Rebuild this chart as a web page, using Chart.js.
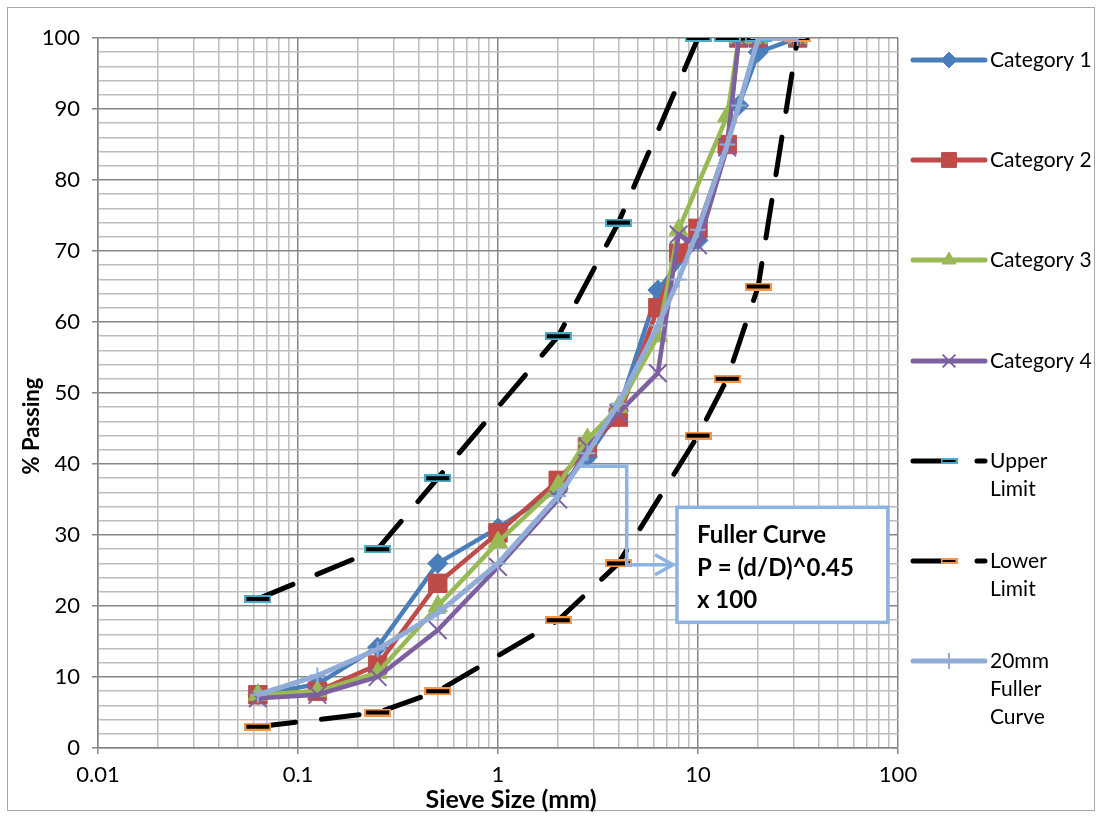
<!DOCTYPE html>
<html>
<head>
<meta charset="utf-8">
<script src="https://cdn.jsdelivr.net/npm/chart.js@4.4.0/dist/chart.umd.min.js"></script>
<style>
  html, body { margin: 0; padding: 0; background: #fff; }
  #wrap { width: 1101px; height: 817px; }
</style>
</head>
<body>
<div id="wrap"><canvas id="gradingChart" width="1101" height="817"></canvas></div>
<script>
// --- data ---
const sieveSizes = [0.063, 0.125, 0.25, 0.5, 1, 2, 2.8, 4, 6.3, 8, 10, 14, 16, 20, 31.5];
const category1 = [7.5, 9, 14.2, 26, 31, 36.5, 41, 47.5, 64.5, null, 71.5, null, 90.5, 98, 100];
const category2 = [7.5, 8, 11.7, 23.2, 30.3, 37.7, 42.4, 46.6, 62, 69.7, 73.2, 85, 100, 100, 100];
const category3 = [7.5, 8, 10.6, 20, 29, 37, 43.5, 48, 58, 73, null, 89, 100, 100, 100];
const category4 = [7, 7.5, 10, 16.6, 25.5, 35, 42.4, 47.2, 52.8, 72.3, 70.8, 84.6, 100, 100, 100];
const fuller20 = [7.5, 10.2, 13.9, 19, 26, 35.5, 41.5, 48.5, 59.5, 66, 73, 85, 90.5, 100, 100];

const upperSizes = [0.063, 0.25, 0.5, 2, 4, 10, 14, 20];
const upperLimit = [21, 28, 38, 58, 74, 100, 100, 100];
const lowerSizes = [0.063, 0.25, 0.5, 2, 4, 10, 14, 20, 31.5];
const lowerLimit = [3, 5, 8, 18, 26, 44, 52, 65, 100];

const xMajorTicks = [0.01, 0.1, 1, 10, 100];
const xTickLabels = ["0.01", "0.1", "1", "10", "100"];

const seriesNames = ["Category 1", "Category 2", "Category 3", "Category 4", "Upper Limit", "Lower Limit", "20mm Fuller Curve"];

// --- helpers ---
function toPoints(xs, ys) {
  return xs.map((x, i) => ({ x: x, y: ys[i] })).filter(p => p.y !== null);
}

function isDecade(v) {
  const l = Math.log10(v);
  return Math.abs(l - Math.round(l)) < 1e-9;
}

// black dash marker with a coloured rim
function dashMarker(w, h, rim) {
  const c = document.createElement("canvas");
  c.width = w;
  c.height = h;
  const g = c.getContext("2d");
  g.fillStyle = rim;
  g.fillRect(0, 0, w, h);
  g.fillStyle = "#000";
  g.fillRect(2, 2, w - 4, h - 4);
  return c;
}

const FONT = "Lato, 'Open Sans', sans-serif";
const MAJOR_GRID = "#858585";
const MINOR_GRID = "#bdbdbd";
const FULLER_BLUE = "#92acd8";
const NOTE_BLUE = "#8db3e2";

const upperMark = dashMarker(27, 8, "#4bacc6");
const lowerMark = dashMarker(27, 8, "#f79646");
const upperMarkSmall = dashMarker(17, 6, "#4bacc6");
const lowerMarkSmall = dashMarker(17, 6, "#f79646");

const datasets = [
  {
    label: seriesNames[0], data: toPoints(sieveSizes, category1), order: 6,
    borderColor: "#4a7ebb", backgroundColor: "#4a7ebb", borderWidth: 4.5,
    pointStyle: "rectRot", pointRadius: 10, pointBorderWidth: 1, legendRadius: 8,
  },
  {
    label: seriesNames[1], data: toPoints(sieveSizes, category2), order: 5,
    borderColor: "#be4b48", backgroundColor: "#be4b48", borderWidth: 4.5,
    pointStyle: "rect", pointRadius: 13, pointBorderWidth: 1, legendRadius: 10.5,
  },
  {
    label: seriesNames[2], data: toPoints(sieveSizes, category3), order: 4,
    borderColor: "#98b954", backgroundColor: "#98b954", borderWidth: 4.5,
    pointStyle: "triangle", pointRadius: 11, pointBorderWidth: 1, legendRadius: 8,
  },
  {
    label: seriesNames[3], data: toPoints(sieveSizes, category4), order: 3,
    borderColor: "#7d60a0", backgroundColor: "#7d60a0", borderWidth: 4.5,
    pointStyle: "crossRot", pointRadius: 12.5, pointBorderWidth: 2, legendRadius: 9,
  },
  {
    label: seriesNames[4], data: toPoints(upperSizes, upperLimit), order: 2,
    borderColor: "#000", backgroundColor: "#000", borderWidth: 5,
    borderDash: [38, 26], borderCapStyle: "round",
    pointStyle: upperMark, pointRadius: 8, legendMark: upperMarkSmall,
  },
  {
    label: seriesNames[5], data: toPoints(lowerSizes, lowerLimit), order: 1,
    borderColor: "#000", backgroundColor: "#000", borderWidth: 5,
    borderDash: [38, 26], borderCapStyle: "round",
    pointStyle: lowerMark, pointRadius: 8, legendMark: lowerMarkSmall,
  },
  {
    label: seriesNames[6], data: toPoints(sieveSizes, fuller20), order: 0,
    borderColor: FULLER_BLUE, backgroundColor: FULLER_BLUE, borderWidth: 5,
    pointStyle: "cross", pointRadius: 8, pointBorderWidth: 2, legendRadius: 8,
  },
];

// --- frame, axis titles, legend, note box ---
const decorPlugin = {
  id: "decor",
  beforeDraw(chart) {
    const ctx = chart.ctx;
    ctx.save();
    ctx.fillStyle = "#fff";
    ctx.fillRect(0, 0, chart.width, chart.height);
    ctx.strokeStyle = "#a6a6a6";
    ctx.lineWidth = 1;
    ctx.strokeRect(7.5, 7.5, chart.width - 14, chart.height - 14);
    ctx.restore();
  },
  afterDraw(chart) {
    const ctx = chart.ctx;
    const area = chart.chartArea;
    const xs = chart.scales.x;
    const ys = chart.scales.y;
    ctx.save();

    // axis titles
    ctx.fillStyle = "#000";
    ctx.textAlign = "center";
    ctx.textBaseline = "middle";
    ctx.font = "bold 25px " + FONT;
    ctx.fillText("Sieve Size (mm)", (area.left + area.right) / 2 + 13, 800);
    ctx.save();
    ctx.translate(32, 426);
    ctx.rotate(-Math.PI / 2);
    ctx.font = "bold 22px " + FONT;
    ctx.fillText("% Passing", 0, 0);
    ctx.restore();

    // legend
    const legendRows = [
      { ds: 0, y: 60, lines: ["Category 1"] },
      { ds: 1, y: 160, lines: ["Category 2"] },
      { ds: 2, y: 260, lines: ["Category 3"] },
      { ds: 3, y: 361, lines: ["Category 4"] },
      { ds: 4, y: 461, lines: ["Upper", "Limit"] },
      { ds: 5, y: 561, lines: ["Lower", "Limit"] },
      { ds: 6, y: 661, lines: ["20mm", "Fuller", "Curve"] },
    ];
    const x0 = area.right + 15, x1 = area.right + 87, xm = area.right + 51;
    legendRows.forEach(row => {
      const ds = datasets[row.ds];
      ctx.save();
      ctx.strokeStyle = ds.borderColor;
      ctx.lineWidth = 5;
      ctx.lineCap = "round";
      if (ds.borderDash) ctx.setLineDash(ds.borderDash);
      ctx.beginPath();
      ctx.moveTo(x0, row.y);
      ctx.lineTo(x1, row.y);
      ctx.stroke();
      ctx.restore();

      ctx.save();
      ctx.fillStyle = ds.backgroundColor;
      ctx.strokeStyle = ds.borderColor;
      ctx.lineWidth = ds.pointBorderWidth || 1;
      if (ds.legendMark) {
        ctx.drawImage(ds.legendMark, xm - ds.legendMark.width / 2, row.y - ds.legendMark.height / 2);
      } else if (ds.pointStyle === "cross") {
        ctx.beginPath();
        ctx.moveTo(xm, row.y - ds.legendRadius);
        ctx.lineTo(xm, row.y + ds.legendRadius);
        ctx.stroke();
      } else {
        Chart.helpers.drawPoint(ctx, {
          pointStyle: ds.pointStyle, radius: ds.legendRadius, rotation: 0, borderWidth: ds.pointBorderWidth || 1,
        }, xm, row.y);
      }
      ctx.restore();

      ctx.fillStyle = "#000";
      ctx.font = "21px " + FONT;
      ctx.textAlign = "left";
      ctx.textBaseline = "middle";
      row.lines.forEach((t, i) => ctx.fillText(t, area.right + 92, row.y + i * 28));
    });

    // note box with elbow arrow
    const fromX = xs.getPixelForValue(2.57), fromY = ys.getPixelForValue(39.7);
    const elbowX = xs.getPixelForValue(4.4);
    const tipX = xs.getPixelForValue(7.5), tipY = ys.getPixelForValue(25.8);
    ctx.strokeStyle = NOTE_BLUE;
    ctx.lineWidth = 3.5;
    ctx.lineJoin = "miter";
    ctx.beginPath();
    ctx.moveTo(fromX, fromY);
    ctx.lineTo(elbowX, fromY);
    ctx.lineTo(elbowX, tipY);
    ctx.lineTo(tipX, tipY);
    ctx.stroke();
    ctx.beginPath();
    ctx.moveTo(tipX - 18, tipY - 10);
    ctx.lineTo(tipX, tipY);
    ctx.lineTo(tipX - 18, tipY + 10);
    ctx.stroke();

    const bx0 = xs.getPixelForValue(7.85), bx1 = xs.getPixelForValue(89);
    const by0 = ys.getPixelForValue(33.9), by1 = ys.getPixelForValue(17.7);
    ctx.fillStyle = "#fff";
    ctx.fillRect(bx0, by0, bx1 - bx0, by1 - by0);
    ctx.strokeRect(bx0, by0, bx1 - bx0, by1 - by0);
    ctx.fillStyle = "#000";
    ctx.font = "bold 24px " + FONT;
    ctx.textAlign = "left";
    ctx.textBaseline = "middle";
    ["Fuller Curve", "P = (d/D)^0.45", "x 100"].forEach((t, i) => {
      ctx.fillText(t, bx0 + 20, by0 + 28 + i * 32.5);
    });

    ctx.restore();
  },
};

const ctx = document.getElementById("gradingChart").getContext("2d");

new Chart(ctx, {
  type: "line",
  data: { datasets: datasets },
  options: {
    responsive: false,
    animation: false,
    events: [],
    layout: { padding: { top: 38, right: 203, left: 0, bottom: 0 } },
    plugins: { legend: { display: false }, tooltip: { enabled: false } },
    elements: { line: { tension: 0 } },
    scales: {
      x: {
        type: "logarithmic",
        min: 0.01,
        max: 100,
        afterBuildTicks(scale) {
          const ticks = [];
          for (let e = -2; e <= 1; e++) {
            for (let m = 1; m <= 9; m++) ticks.push({ value: parseFloat((m * Math.pow(10, e)).toPrecision(3)) });
          }
          ticks.push({ value: 100 });
          scale.ticks = ticks;
        },
        afterFit(scale) { scale.height = 69; },
        border: { color: MAJOR_GRID, width: 1.5 },
        grid: {
          lineWidth: 1.5,
          tickLength: 6,
          color: c => (c.tick && isDecade(c.tick.value) ? MAJOR_GRID : MINOR_GRID),
          tickColor: c => (c.tick && isDecade(c.tick.value) ? MAJOR_GRID : "rgba(0,0,0,0)"),
        },
        ticks: {
          autoSkip: false,
          maxRotation: 0,
          padding: 8,
          color: "#000",
          font: { family: FONT, size: 22 },
          callback: v => {
            const i = xMajorTicks.findIndex(t => Math.abs(t - v) < 1e-9);
            return i >= 0 ? xTickLabels[i] : "";
          },
        },
      },
      y: {
        type: "linear",
        min: 0,
        max: 100,
        afterFit(scale) { scale.width = 98; },
        border: { color: MAJOR_GRID, width: 1.5 },
        grid: {
          lineWidth: 1.5,
          tickLength: 6,
          color: c => (c.tick && c.tick.value % 10 === 0 ? MAJOR_GRID : MINOR_GRID),
          tickColor: c => (c.tick && c.tick.value % 10 === 0 ? MAJOR_GRID : "rgba(0,0,0,0)"),
        },
        ticks: {
          stepSize: 2,
          autoSkip: false,
          padding: 12,
          color: "#000",
          font: { family: FONT, size: 22 },
          callback: v => (v % 10 === 0 ? String(v) : ""),
        },
      },
    },
  },
  plugins: [decorPlugin],
});
</script>
</body>
</html>
